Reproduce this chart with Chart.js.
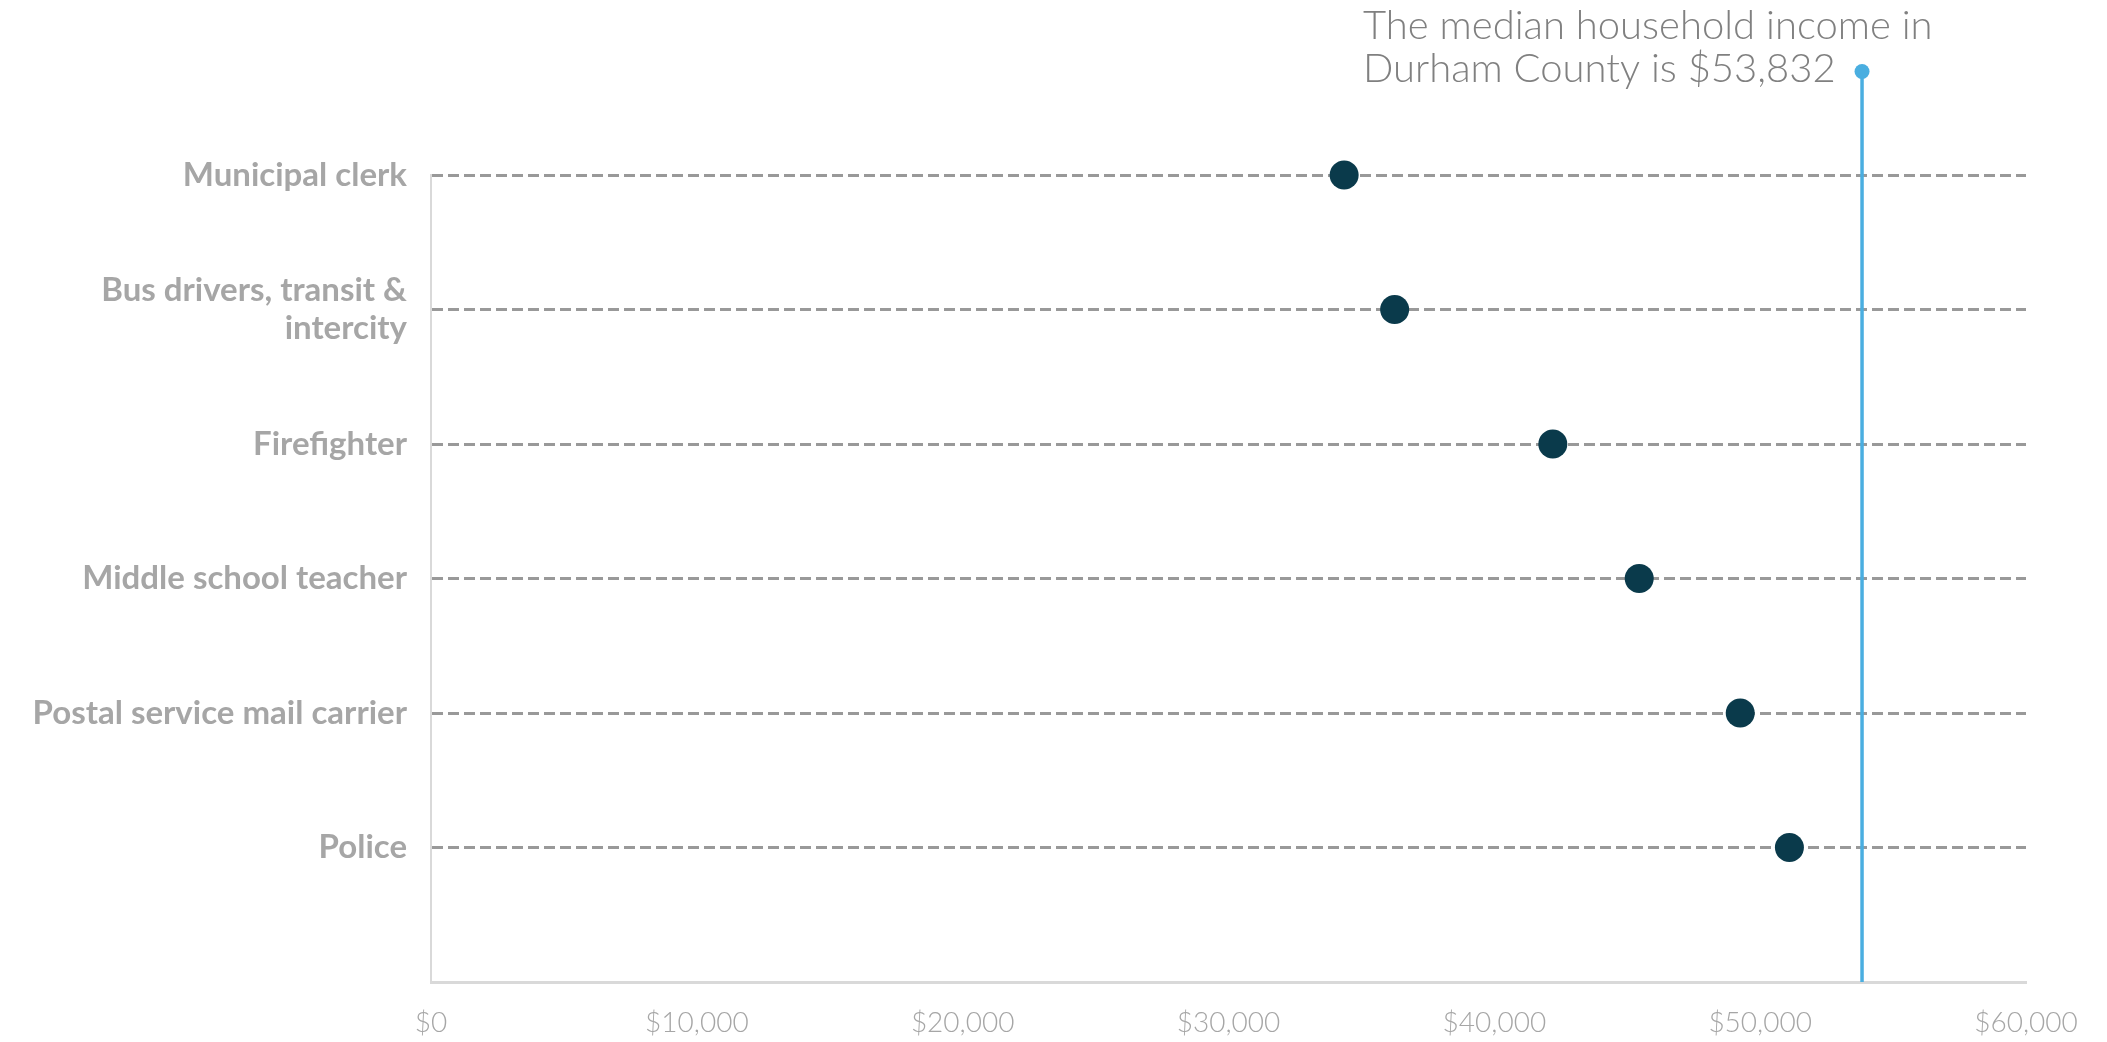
<!DOCTYPE html>
<html lang="en">
  <head>
    <meta charset="UTF-8" />
    <title>Durham County wages vs median household income</title>
    <script src="https://cdn.jsdelivr.net/npm/chart.js"></script>
    <style>
      html, body { margin: 0; padding: 0; background: #fff; }
      #wrap { width: 2107px; height: 1042px; position: relative; }
    </style>
  </head>
  <body>
    <div id="wrap"><canvas id="wageChart"></canvas></div>
    <script>
      // Occupations, top to bottom
      const occupations = [
        "Municipal clerk",
        "Bus drivers, transit &\nintercity",
        "Firefighter",
        "Middle school teacher",
        "Postal service mail carrier",
        "Police",
      ];
      // Average annual wage for each occupation
      const salaries = [34350, 36250, 42200, 45450, 49250, 51100];

      const medianIncome = 53832;
      const medianLineTop = 6.77; // how far the median marker reaches up
      const medianNote = [
        "The median household income in",
        "Durham County is $53,832",
      ];

      const xMin = 0;
      const xMax = 60000;
      const xStep = 10000;

      const n = occupations.length;
      const rowOf = (i) => n - i;

      const dotPoints = salaries.map((s, i) => ({ x: s, y: rowOf(i) }));
      const medianPoints = [
        { x: medianIncome, y: 0 },
        { x: medianIncome, y: medianLineTop },
      ];

      const labelGrey = "#a6a6a6";
      const medianBlue = "#4aaee0";

      // end dot of the median line (sits above the plot area) and its note
      const medianNotePlugin = {
        id: "medianNote",
        afterDatasetsDraw(chart) {
          const { ctx } = chart;
          const top = chart.getDatasetMeta(0).data[1];
          ctx.save();
          ctx.fillStyle = medianBlue;
          ctx.beginPath();
          ctx.arc(top.x, top.y, 7.5, 0, Math.PI * 2);
          ctx.fill();

          ctx.font = "300 40px Lato, 'Open Sans', sans-serif";
          ctx.fillStyle = "#808080";
          ctx.textAlign = "left";
          ctx.textBaseline = "alphabetic";
          const left = top.x - 499;
          ctx.fillText(medianNote[0], left, top.y - 32);
          ctx.fillText(medianNote[1], left, top.y + 11);
          ctx.restore();
        },
      };

      new Chart(document.getElementById("wageChart"), {
        type: "scatter",
        data: {
          datasets: [
            {
              type: "line",
              data: medianPoints,
              borderColor: medianBlue,
              borderWidth: 3.5,
              pointRadius: 0,
              clip: false,
              order: 2,
            },
            {
              data: dotPoints,
              pointRadius: 14.5,
              pointBackgroundColor: "#0a3a4b",
              pointBorderWidth: 0,
              clip: false,
              order: 1,
            },
          ],
        },
        options: {
          responsive: true,
          maintainAspectRatio: false,
          animation: false,
          layout: { padding: { left: 0, top: 175, right: 81, bottom: 0 } },
          plugins: {
            legend: { display: false },
            tooltip: { enabled: false },
          },
          scales: {
            x: {
              type: "linear",
              min: xMin,
              max: xMax,
              ticks: {
                stepSize: xStep,
                padding: 24,
                color: labelGrey,
                font: { family: "Lato", size: 28, weight: "300" },
                callback: (v) => "$" + v.toLocaleString("en-US"),
              },
              grid: { display: false, drawTicks: false },
              border: { display: true, color: "#d9d9d9", width: 3 },
              afterFit: (scale) => { scale.height = 60; },
            },
            y: {
              type: "linear",
              min: 0,
              max: n,
              ticks: {
                stepSize: 1,
                padding: 24,
                color: labelGrey,
                font: { family: "Lato", size: 33, weight: "bold", lineHeight: 1.15 },
                callback: (v) => {
                  if (v < 1 || v > n) return "";
                  return occupations[n - v].split("\n");
                },
              },
              grid: {
                drawTicks: false,
                lineWidth: 3,
                color: (c) => (c.tick && c.tick.value === 0 ? "rgba(0,0,0,0)" : "#999999"),
              },
              border: { display: true, color: "#d9d9d9", width: 2, dash: [11, 5] },
              afterFit: (scale) => { scale.width = 431; },
            },
          },
        },
        plugins: [medianNotePlugin],
      });
    </script>
  </body>
</html>
